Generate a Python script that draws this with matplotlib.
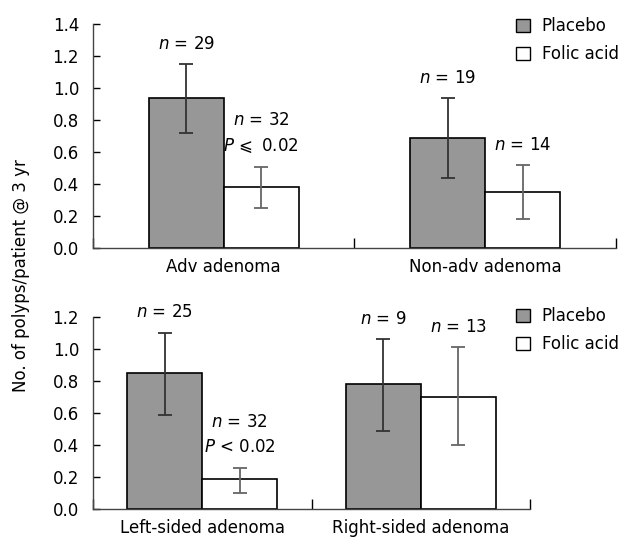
import matplotlib
matplotlib.use("Agg")
import matplotlib.pyplot as plt
from matplotlib.patches import Patch
import numpy as np

plt.rcParams['font.family'] = ['DejaVu Sans']
plt.rcParams['mathtext.fontset'] = 'dejavusans'

# top panel: advanced vs non-advanced adenoma
top_cats = ["Adv adenoma", "Non-adv adenoma"]
top_placebo = [0.94, 0.69]
top_placebo_lo = [0.72, 0.44]
top_placebo_hi = [1.15, 0.94]
top_folic = [0.38, 0.35]
top_folic_lo = [0.25, 0.18]
top_folic_hi = [0.51, 0.52]
top_n_placebo = ["$n$ = 29", "$n$ = 19"]
top_n_folic = ["$n$ = 32\n$P\\,\\leqslant$ 0.02", "$n$ = 14"]

# bottom panel: left vs right sided adenoma
bot_cats = ["Left-sided adenoma", "Right-sided adenoma"]
bot_placebo = [0.85, 0.78]
bot_placebo_lo = [0.59, 0.49]
bot_placebo_hi = [1.10, 1.06]
bot_folic = [0.19, 0.70]
bot_folic_lo = [0.10, 0.40]
bot_folic_hi = [0.26, 1.01]
bot_n_placebo = ["$n$ = 25", "$n$ = 9"]
bot_n_folic = ["$n$ = 32\n$P$ < 0.02", "$n$ = 13"]

placebo_col = '#979797'
fs = 12


def panel(ax, cats, pl, pl_lo, pl_hi, fo, fo_lo, fo_hi, n_pl, n_fo, width, ymax, yticks):
    x = np.arange(len(cats)) + 0.5
    ax.bar(x - width / 2, pl, width, color=placebo_col, edgecolor='black', linewidth=1.2)
    ax.bar(x + width / 2, fo, width, color='white', edgecolor='black', linewidth=1.2)
    pl = np.array(pl)
    fo = np.array(fo)
    ax.errorbar(x - width / 2, pl, yerr=[pl - np.array(pl_lo), np.array(pl_hi) - pl],
                fmt='none', ecolor='#333333', elinewidth=1.3, capsize=5, capthick=1.3)
    ax.errorbar(x + width / 2, fo, yerr=[fo - np.array(fo_lo), np.array(fo_hi) - fo],
                fmt='none', ecolor='#666666', elinewidth=1.3, capsize=5, capthick=1.3)
    for i in range(len(cats)):
        ax.text(x[i] - width / 2, pl_hi[i] + 0.07, n_pl[i], ha='center', va='bottom', fontsize=fs)
        ax.text(x[i] + width / 2, fo_hi[i] + 0.07, n_fo[i], ha='center', va='bottom',
                fontsize=fs, linespacing=1.55)
    ax.set_xlim(0, len(cats))
    ax.set_ylim(0, ymax)
    ax.set_yticks(yticks)
    ax.set_yticklabels(["%.1f" % v for v in yticks])
    ax.set_xticks(np.arange(len(cats) + 1))
    ax.set_xticklabels([])
    ax.set_xticks(x, minor=True)
    ax.set_xticklabels(cats, minor=True)
    ax.tick_params(axis='x', which='major', direction='in', length=7, width=1)
    ax.tick_params(axis='x', which='minor', length=0, pad=7, labelsize=fs)
    ax.tick_params(axis='y', direction='in', length=5, width=1, pad=10, labelsize=fs)
    for s in ['top', 'right']:
        ax.spines[s].set_visible(False)
    for s in ['left', 'bottom']:
        ax.spines[s].set_color('#444444')
        ax.spines[s].set_linewidth(1.0)


fig = plt.figure(figsize=(6.2, 5.37), dpi=100)
ax1 = fig.add_axes([0.15, 0.538, 0.8435, 0.417])
ax2 = fig.add_axes([0.15, 0.0516, 0.705, 0.3587])

panel(ax1, top_cats, top_placebo, top_placebo_lo, top_placebo_hi, top_folic, top_folic_lo,
      top_folic_hi, top_n_placebo, top_n_folic, 0.287, 1.4, np.arange(0, 1.41, 0.2))
panel(ax2, bot_cats, bot_placebo, bot_placebo_lo, bot_placebo_hi, bot_folic, bot_folic_lo,
      bot_folic_hi, bot_n_placebo, bot_n_folic, 0.343, 1.2, np.arange(0, 1.21, 0.2))

handles = [Patch(facecolor=placebo_col, edgecolor='black', label='Placebo'),
           Patch(facecolor='white', edgecolor='black', label='Folic acid')]
for yy in [0.968, 0.428]:
    fig.legend(handles=handles, loc='upper left', bbox_to_anchor=(0.832, yy),
               bbox_transform=fig.transFigure, frameon=False, fontsize=fs,
               handlelength=0.85, handleheight=0.85, handletextpad=0.7,
               labelspacing=0.6, borderpad=0, borderaxespad=0)

fig.text(0.034, 0.486, "No. of polyps/patient @ 3 yr", rotation=90, ha='center',
         va='center', fontsize=fs)

fig.savefig("out.png", dpi=100)
